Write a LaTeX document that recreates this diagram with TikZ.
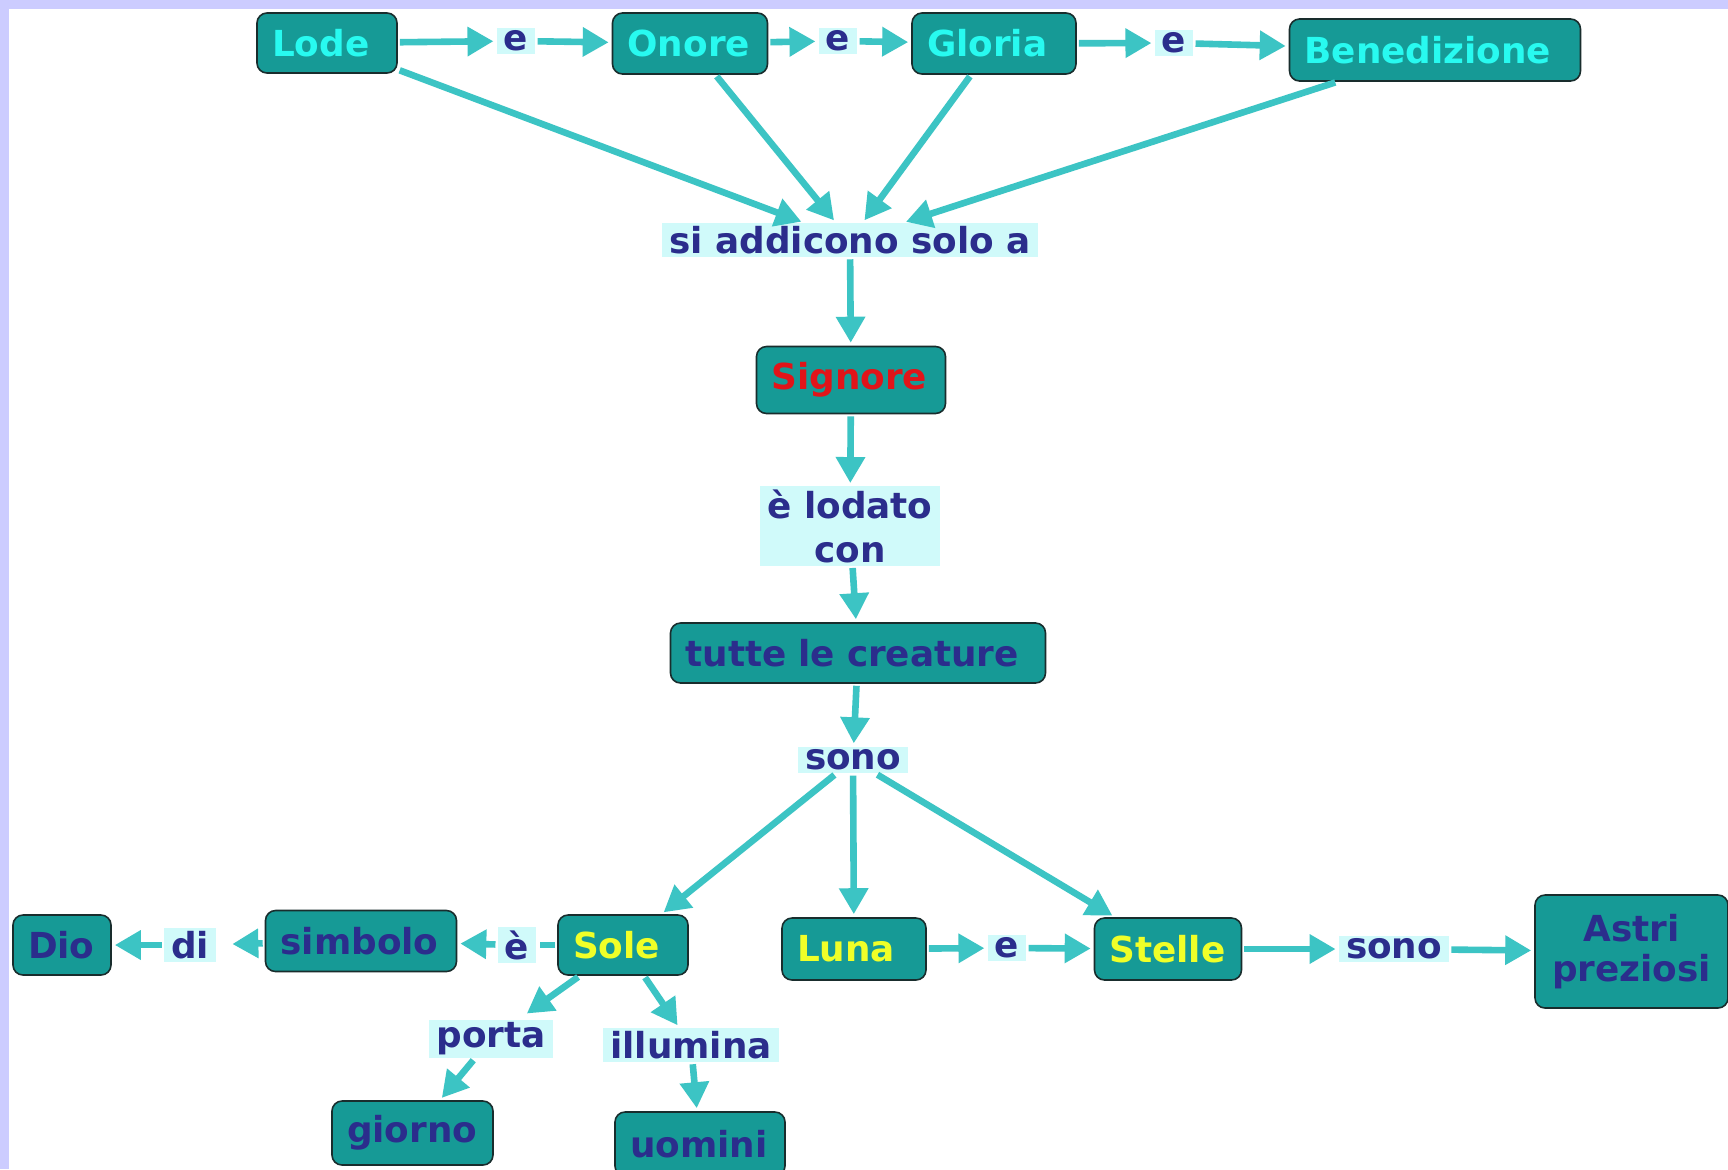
\documentclass[tikz,border=0pt]{standalone}
\usepackage{fontspec}
\setmainfont{DejaVu Sans}
\usetikzlibrary{arrows.meta}
\definecolor{lav}{RGB}{204,204,255}
\definecolor{cfill}{RGB}{22,154,150}
\definecolor{cborder}{RGB}{25,45,45}
\definecolor{arrc}{RGB}{60,196,196}
\definecolor{lbg}{RGB}{208,250,250}
\definecolor{dblue}{RGB}{43,45,140}
\definecolor{cyantxt}{RGB}{40,250,240}
\definecolor{yel}{RGB}{240,255,40}
\definecolor{redtxt}{RGB}{225,20,25}
\begin{document}
\begin{tikzpicture}[x=0.5pt,y=-0.5pt,
 concept/.style={draw=cborder, line width=0.8pt, fill=cfill, rounded corners=5pt, font=\fontsize{17.9}{21}\selectfont\bfseries, inner xsep=7.5pt, inner ysep=0pt, align=left},
 lab/.style={fill=lbg, text=dblue, font=\fontsize{17.9}{22}\selectfont\bfseries, inner xsep=3.5pt, inner ysep=1.5pt, align=center},
 link/.style={draw=arrc, line width=3.3pt, shorten >=1.5pt, shorten <=1pt},
 arr/.style={link, -{Triangle[length=13pt,width=14pt]}},
]
\useasboundingbox (0,0) rectangle (1728,1169);
\fill[lav] (0,0) rectangle (1728,1169);
\fill[white] (9,9) rectangle (1728,1169);

\node[concept, text=cyantxt, text width=55pt, minimum width=70pt, minimum height=30pt] (lode) at (327,43) {Lode};
\node[concept, text=cyantxt, text width=62.5pt, minimum width=77.5pt, minimum height=30.5pt] (onore) at (690,43.5) {Onore};
\node[concept, text=cyantxt, text width=67pt, minimum width=82pt, minimum height=30.5pt] (gloria) at (994,43.5) {Gloria};
\node[concept, text=cyantxt, text width=130.5pt, minimum width=145.5pt, minimum height=31pt] (bene) at (1435,50) {Benedizione};
\node[lab] (e1) at (516,41) {e};
\node[lab] (e2) at (838,41) {e};
\node[lab] (e3) at (1174,43) {e};
\node[lab] (si) at (850,240) {si addicono solo a};
\node[concept, text=redtxt, text width=79.5pt, minimum width=94.5pt, minimum height=33.5pt] (sig) at (851,380) {Signore};
\node[lab, minimum width=88pt, minimum height=39pt] (lod) at (850,526) {è lodato\\con};
\node[concept, text=dblue, text width=172.5pt, minimum width=187.5pt, minimum height=30pt] (tutte) at (858,653) {tutte le creature};
\node[lab] (sono) at (853,760) {sono};
\node[concept, text=yel, text width=50pt, minimum width=65pt, minimum height=30pt] (sole) at (623,945) {Sole};
\node[concept, text=yel, text width=57pt, minimum width=72pt, minimum height=31pt] (luna) at (854,949) {Luna};
\node[concept, text=yel, text width=58.5pt, minimum width=73.5pt, minimum height=31pt] (stelle) at (1168,949) {Stelle};
\node[concept, text=dblue, align=center, minimum width=96.5pt, minimum height=56.5pt, font=\fontsize{17.9}{20}\selectfont\bfseries] (astri) at (1631.5,951.5) {Astri\\preziosi};
\node[lab] (e4) at (1007,948) {e};
\node[lab] (sono2) at (1394,949) {sono};
\node[concept, text=dblue, text width=80.5pt, minimum width=95.5pt, minimum height=30.5pt] (simb) at (361,941) {simbolo};
\node[concept, text=dblue, text width=34pt, minimum width=49pt, minimum height=30pt] (dio) at (62,945) {Dio};
\node[lab] (di) at (190,945) {di};
\node[lab] (e5) at (517,945) {è};
\node[lab] (porta) at (491,1039) {porta};
\node[lab] (illu) at (691,1045) {illumina};
\node[concept, text=dblue, text width=65.5pt, minimum width=80.5pt, minimum height=32pt] (giorno) at (412.5,1133) {giorno};
\node[concept, text=dblue, text width=70pt, minimum width=85pt, minimum height=32pt] (uomini) at (700,1144) {uomini};

\draw[arr] (lode) -- (e1);
\draw[arr] (e1) -- (onore);
\draw[arr] (onore) -- (e2);
\draw[arr] (e2) -- (gloria);
\draw[arr] (gloria) -- (e3);
\draw[arr] (e3) -- (bene);
\draw[arr] (lode) -- (si);
\draw[arr] (onore) -- (si);
\draw[arr] (gloria) -- (si);
\draw[arr] (bene) -- (si);
\draw[arr] (si) -- (sig);
\draw[arr] (sig) -- (lod);
\draw[arr] (lod) -- (tutte);
\draw[arr] (tutte) -- (sono);
\draw[arr] (sono) -- (sole);
\draw[arr] (sono) -- (luna);
\draw[arr] (sono) -- (stelle);
\draw[arr] (luna) -- (e4);
\draw[arr] (e4) -- (stelle);
\draw[arr] (stelle) -- (sono2);
\draw[arr] (sono2) -- (astri);
\draw[link] (sole) -- (e5);
\draw[arr] (e5) -- (simb);
\draw[arr, shorten >=8pt] (simb) -- (di);
\draw[arr] (di) -- (dio);
\draw[arr, shorten >=5pt] (sole) -- (porta);
\draw[arr] (porta) -- (giorno);
\draw[arr] (sole) -- (illu);
\draw[arr] (illu) -- (uomini);
\end{tikzpicture}
\end{document}
